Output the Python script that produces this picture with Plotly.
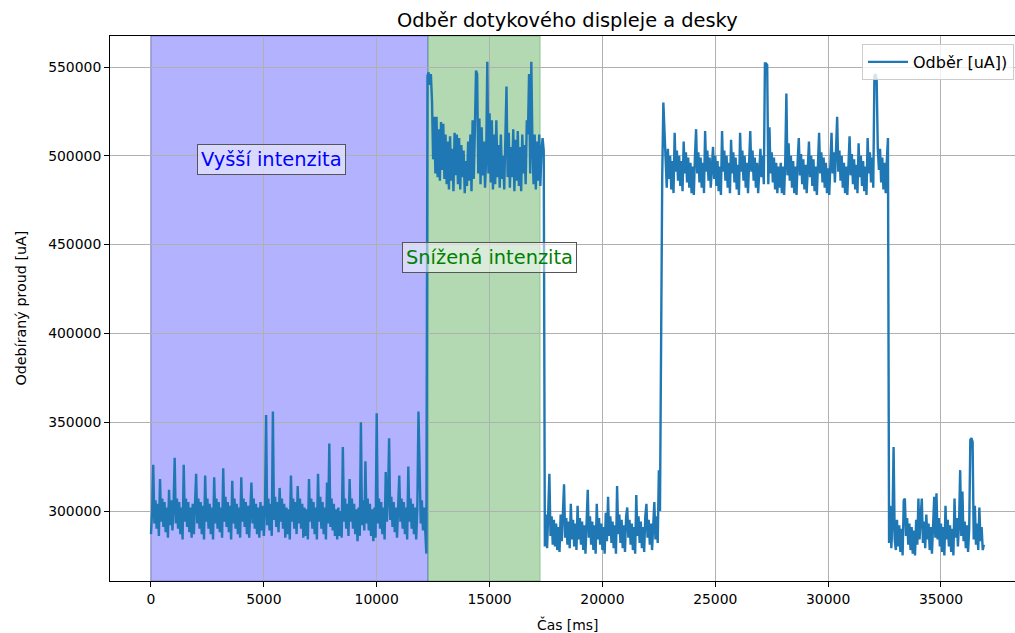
import numpy as np
import plotly.graph_objects as go

STEP_MS = 50

seg_high_start = 0
seg_high = [
    287000, 300000, 326000, 293000, 306000, 290000, 304000, 286000,
    318000, 294000, 307000, 291000, 305000, 288000, 302000, 285000,
    312000, 292000, 306000, 289000, 303000, 330000, 293000, 307000,
    290000, 305000, 287000, 302000, 284000, 326000, 294000, 307000,
    291000, 305000, 288000, 302000, 285000, 304000, 287000, 301000,
    321000, 293000, 307000, 290000, 305000, 287000, 303000, 284000,
    320000, 294000, 307000, 290000, 304000, 287000, 302000, 284000,
    319000, 293000, 307000, 290000, 305000, 288000, 302000, 285000,
    324000, 294000, 308000, 291000, 305000, 288000, 303000, 284000,
    317000, 293000, 307000, 290000, 304000, 287000, 302000, 285000,
    319000, 294000, 307000, 291000, 305000, 287000, 303000, 285000,
    304000, 316000, 293000, 307000, 290000, 304000, 287000, 302000,
    285000, 305000, 289000, 303000, 286000, 301000, 354000, 292000,
    307000, 289000, 304000, 286000, 356000, 295000, 308000, 291000,
    305000, 288000, 313000, 294000, 307000, 290000, 304000, 285000,
    302000, 287000, 301000, 284000, 320000, 294000, 307000, 290000,
    305000, 287000, 314000, 293000, 307000, 290000, 304000, 285000,
    302000, 286000, 301000, 284000, 318000, 294000, 307000, 290000,
    305000, 287000, 302000, 284000, 321000, 294000, 308000, 290000,
    305000, 287000, 302000, 284000, 316000, 293000, 338000, 291000,
    307000, 289000, 304000, 286000, 301000, 284000, 302000, 286000,
    300000, 285000, 336000, 294000, 307000, 290000, 304000, 286000,
    318000, 294000, 307000, 290000, 304000, 287000, 301000, 283000,
    302000, 286000, 350000, 292000, 306000, 289000, 328000, 293000,
    307000, 289000, 304000, 286000, 301000, 283000, 302000, 285000,
    355000, 293000, 307000, 290000, 305000, 287000, 302000, 284000,
    322000, 294000, 307000, 341000, 295000, 308000, 291000, 305000,
    288000, 302000, 285000, 301000, 320000, 294000, 307000, 290000,
    305000, 287000, 302000, 284000, 325000, 294000, 307000, 290000,
    304000, 287000, 302000, 284000, 301000, 356000, 331000, 293000,
    306000, 289000, 302000, 284000, 276000,
]

seg_low_start = 12250
seg_low = [
    545000, 547000, 540000, 546000, 531000, 498000, 522000, 490000,
    522000, 488000, 515000, 486000, 519000, 492000, 518000, 487000,
    512000, 484000, 508000, 481000, 511000, 486000, 504000, 480000,
    513000, 489000, 512000, 484000, 510000, 481000, 506000, 488000,
    503000, 479000, 497000, 483000, 508000, 486000, 512000, 480000,
    520000, 487000, 515000, 548000, 546000, 490000, 521000, 484000,
    516000, 489000, 508000, 482000, 499000, 553000, 490000, 524000,
    485000, 520000, 481000, 512000, 484000, 520000, 488000, 506000,
    482000, 512000, 487000, 500000, 481000, 510000, 539000, 488000,
    513000, 482000, 505000, 488000, 515000, 480000, 509000, 486000,
    514000, 483000, 505000, 480000, 512000, 490000, 506000, 484000,
    520000, 512000, 546000, 490000, 553000, 505000, 484000, 512000,
    481000, 508000, 486000, 512000, 483000, 503000, 510000, 503000,
]

seg_idle1_start = 17450
seg_idle1 = [
    280000, 298000, 279000, 300000, 321000, 286000, 297000, 281000,
    295000, 280000, 293000, 278000, 291000, 277000, 298000, 283000,
    297000, 315000, 285000, 296000, 281000, 294000, 279000, 304000,
    284000, 295000, 280000, 293000, 278000, 303000, 284000, 296000,
    281000, 294000, 278000, 292000, 276000, 298000, 312000, 285000,
    297000, 281000, 294000, 278000, 292000, 276000, 304000, 284000,
    296000, 281000, 293000, 278000, 291000, 276000, 299000, 283000,
    308000, 286000, 297000, 282000, 294000, 279000, 292000, 276000,
    314000, 287000, 298000, 282000, 295000, 279000, 292000, 277000,
    297000, 302000, 285000, 295000, 281000, 293000, 278000, 291000,
    276000, 309000, 286000, 297000, 282000, 294000, 279000, 291000,
    277000, 297000, 304000, 285000, 295000, 281000, 293000, 278000,
    291000, 305000, 284000, 297000, 282000, 323000, 300000, 420000,
]

seg_touch_start = 22650
seg_touch = [
    488000, 530000, 515000, 498000, 482000, 504000, 487000, 500000,
    481000, 497000, 479000, 513000, 491000, 503000, 486000, 500000,
    483000, 497000, 480000, 508000, 490000, 502000, 485000, 499000,
    482000, 496000, 479000, 494000, 478000, 500000, 515000, 490000,
    502000, 485000, 499000, 482000, 496000, 479000, 514000, 491000,
    503000, 486000, 499000, 482000, 496000, 505000, 487000, 500000,
    483000, 497000, 480000, 494000, 478000, 514000, 491000, 503000,
    486000, 500000, 482000, 496000, 479000, 509000, 490000, 502000,
    485000, 499000, 481000, 495000, 478000, 513000, 491000, 503000,
    486000, 500000, 482000, 496000, 479000, 497000, 514000, 491000,
    503000, 486000, 499000, 482000, 496000, 479000, 494000, 504000,
    488000, 500000, 484000, 552000, 552000, 551000, 484000, 516000,
    490000, 502000, 485000, 499000, 481000, 496000, 479000, 494000,
    482000, 496000, 479000, 494000, 478000, 497000, 535000, 489000,
    507000, 486000, 500000, 482000, 497000, 479000, 494000, 478000,
    497000, 510000, 489000, 501000, 484000, 498000, 481000, 495000,
    479000, 493000, 508000, 488000, 500000, 483000, 498000, 480000,
    494000, 478000, 497000, 513000, 490000, 502000, 485000, 499000,
    482000, 496000, 479000, 493000, 478000, 497000, 513000, 490000,
    502000, 485000, 499000, 522000, 491000, 503000, 486000, 500000,
    482000, 496000, 479000, 494000, 478000, 497000, 511000, 489000,
    501000, 484000, 498000, 481000, 495000, 479000, 507000, 488000,
    500000, 483000, 497000, 480000, 494000, 478000, 510000, 490000,
    502000, 485000, 499000, 482000, 545000, 546000, 543000, 504000,
    492000, 504000, 485000, 499000, 481000, 496000, 479000, 497000,
    510000,
]

seg_idle2_start = 32700
seg_idle2 = [
    282000, 303000, 279000, 293000, 336000, 284000, 278000, 295000,
    280000, 292000, 277000, 290000, 275000, 306000, 307000, 286000,
    296000, 281000, 293000, 278000, 291000, 276000, 289000, 275000,
    295000, 281000, 307000, 284000, 297000, 307000, 282000, 294000,
    279000, 298000, 284000, 293000, 278000, 291000, 276000, 289000,
    308000, 285000, 310000, 284000, 296000, 280000, 293000, 277000,
    291000, 275000, 303000, 284000, 295000, 280000, 292000, 277000,
    290000, 275000, 307000, 285000, 296000, 280000, 293000, 323000,
    286000, 311000, 283000, 294000, 279000, 292000, 277000, 290000,
    340000, 341000, 339000, 284000, 303000, 281000, 293000, 278000,
    302000, 283000, 291000, 278000, 281000,
]

segments = [(seg_high_start, seg_high), (seg_low_start, seg_low),
            (seg_idle1_start, seg_idle1), (seg_touch_start, seg_touch),
            (seg_idle2_start, seg_idle2)]

time_ms = np.concatenate([start + STEP_MS * np.arange(len(v)) for start, v in segments])
current_uA = np.concatenate([np.array(v) for _, v in segments])

# shaded intervals
high_span = (0, 12270)
low_span = (12270, 17240)

x_ticks = [0, 5000, 10000, 15000, 20000, 25000, 30000, 35000]
y_ticks = [300000, 350000, 400000, 450000, 500000, 550000]

title_text = "Odběr dotykového displeje a desky"
x_label = "Čas [ms]"
y_label = "Odebíraný proud [uA]"
legend_label = "Odběr [uA])"
ann_high = ("Vyšší intenzita", 5340, 497900)
ann_low = ("Snížená intenzita", 14975, 442700)

FONT = "DejaVu Sans"

fig = go.Figure()
fig.add_trace(go.Scatter(x=time_ms, y=current_uA, mode="lines",
                         line=dict(color="#1f77b4", width=2.4), name=legend_label,
                         showlegend=True))

fig.add_shape(type="rect", xref="x", yref="paper", x0=high_span[0], x1=high_span[1],
              y0=0, y1=1, fillcolor="rgba(0,0,255,0.3)",
              line=dict(color="rgba(0,0,255,0.3)", width=1), layer="below")
fig.add_shape(type="rect", xref="x", yref="paper", x0=low_span[0], x1=low_span[1],
              y0=0, y1=1, fillcolor="rgba(0,128,0,0.3)",
              line=dict(color="rgba(0,128,0,0.3)", width=1), layer="below")

fig.add_annotation(x=ann_high[1], y=ann_high[2], xref="x", yref="y", text=ann_high[0],
                   showarrow=False, font=dict(family=FONT, size=19.4, color="blue"),
                   bgcolor="rgba(255,255,255,0.5)", bordercolor="#555555", borderwidth=1,
                   borderpad=3)
fig.add_annotation(x=ann_low[1], y=ann_low[2], xref="x", yref="y", text=ann_low[0],
                   showarrow=False, font=dict(family=FONT, size=19.4, color="green"),
                   bgcolor="rgba(255,255,255,0.5)", bordercolor="#555555", borderwidth=1,
                   borderpad=3)

# titles
fig.add_annotation(x=0.505, y=1 + 16 / 545, xref="paper", yref="paper", text=title_text,
                   showarrow=False, font=dict(family=FONT, size=19.4, color="black"),
                   xanchor="center", yanchor="middle")
fig.add_annotation(x=0.505, y=-43 / 545, xref="paper", yref="paper", text=x_label,
                   showarrow=False, font=dict(family=FONT, size=13.9, color="black"),
                   xanchor="center", yanchor="middle")
fig.add_annotation(x=-90 / 905, y=0.5, xref="paper", yref="paper", text=y_label,
                   showarrow=False, textangle=-90,
                   font=dict(family=FONT, size=14.3, color="black"),
                   xanchor="center", yanchor="middle")

axis_common = dict(showgrid=True, gridcolor="#b0b0b0", gridwidth=1,
                   showline=True, linecolor="black", linewidth=1, mirror=True,
                   ticks="outside", ticklen=5, tickcolor="black", tickwidth=1,
                   zeroline=False, tickformat="d",
                   tickfont=dict(family=FONT, size=13.9, color="black"))

fig.update_xaxes(range=[-1816, 38279], tickvals=x_ticks, **axis_common)
fig.update_yaxes(range=[260586, 567455], tickvals=y_ticks, **axis_common)

fig.update_layout(
    width=1015, height=633,
    margin=dict(l=110, r=0, t=36, b=52),
    plot_bgcolor="white", paper_bgcolor="white",
    font=dict(family=FONT, size=13.9, color="black"),
    legend=dict(x=(862 - 110) / 905, y=1 - 8 / 545, xanchor="left", yanchor="top",
                bgcolor="rgba(255,255,255,0.8)", bordercolor="#cccccc", borderwidth=1,
                itemwidth=40,
                font=dict(family=FONT, size=16, color="black")),
    showlegend=True,
)

fig.write_html("out.html")
